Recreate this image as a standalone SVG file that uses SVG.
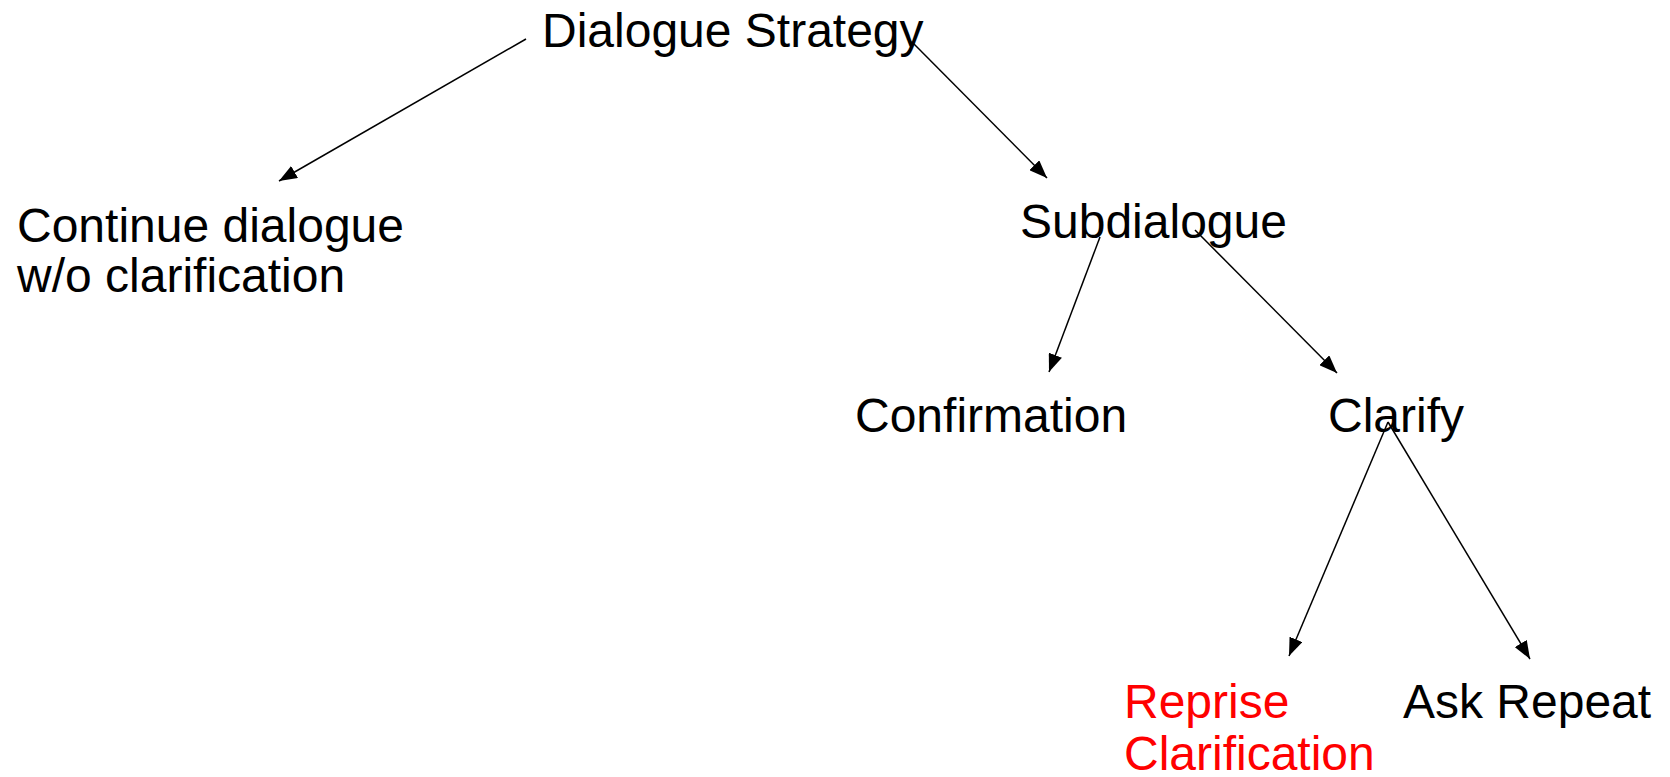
<svg xmlns="http://www.w3.org/2000/svg" width="1670" height="777" viewBox="0 0 1670 777">
<defs>
<marker id="arr" viewBox="0 0 18 14" refX="18" refY="7" markerWidth="18" markerHeight="14" markerUnits="userSpaceOnUse" orient="auto">
<path d="M0,0 L18,7 L0,14 z" fill="#000"/>
</marker>
<style>
text{font-family:"Liberation Sans",Arial,sans-serif;font-size:48px;fill:#000}
.red{fill:#ff0000}
.c{stroke:#000;stroke-width:1.5;fill:none;marker-end:url(#arr)}
</style>
</defs>
<rect width="1670" height="777" fill="#fff"/>
<g id="connectors">
<line class="c" x1="526" y1="39" x2="279" y2="181"/>
<line class="c" x1="913" y1="43" x2="1047" y2="178"/>
<line class="c" x1="1100" y1="237" x2="1049" y2="372"/>
<line class="c" x1="1195" y1="230" x2="1337" y2="373"/>
<line class="c" x1="1388" y1="422" x2="1289" y2="656"/>
<line class="c" x1="1388" y1="422" x2="1530" y2="659"/>
</g>
<g id="n-strategy"><text x="542" y="47">Dialogue Strategy</text></g>
<g id="n-continue"><text x="17" y="242">Continue dialogue</text><text x="17" y="292">w/o clarification</text></g>
<g id="n-subdialogue"><text x="1020" y="238">Subdialogue</text></g>
<g id="n-confirmation"><text x="855" y="432">Confirmation</text></g>
<g id="n-clarify"><text x="1328" y="432">Clarify</text></g>
<g id="n-reprise"><text class="red" x="1124" y="718">Reprise</text><text class="red" x="1124" y="770">Clarification</text></g>
<g id="n-askrepeat"><text x="1403" y="718">Ask Repeat</text></g>
</svg>
